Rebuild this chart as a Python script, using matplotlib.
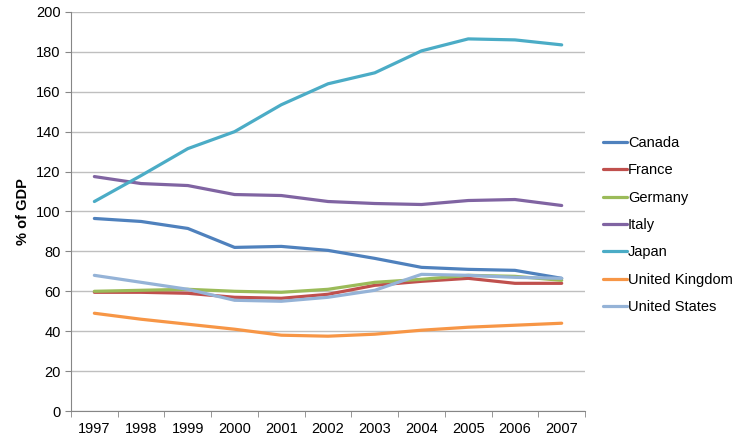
import numpy as np
import matplotlib.pyplot as plt

plt.rcParams['font.family'] = ['Liberation Sans', 'DejaVu Sans']

# Government debt, % of GDP
years = ['1997', '1998', '1999', '2000', '2001', '2002', '2003', '2004', '2005', '2006', '2007']
canada = [96.5, 95, 91.5, 82, 82.5, 80.5, 76.5, 72, 71, 70.5, 66.5]
france = [59.5, 59.5, 59, 57, 56.5, 58.5, 63, 65, 66.5, 64, 64]
germany = [60, 60.5, 61, 60, 59.5, 61, 64.5, 66, 68, 67.5, 65.5]
italy = [117.5, 114, 113, 108.5, 108, 105, 104, 103.5, 105.5, 106, 103]
japan = [105, 118, 131.5, 140, 153.5, 164, 169.5, 180.5, 186.5, 186, 183.5]
uk = [49, 46, 43.5, 41, 38, 37.5, 38.5, 40.5, 42, 43, 44]
us = [68, 64.5, 61, 55.5, 55, 57, 60.5, 68.5, 68, 67, 66.5]

series = [
    ('Canada', canada, '#4F81BD'),
    ('France', france, '#C0504D'),
    ('Germany', germany, '#9BBB59'),
    ('Italy', italy, '#8064A2'),
    ('Japan', japan, '#4BACC6'),
    ('United Kingdom', uk, '#F79646'),
    ('United States', us, '#95B3D7'),
]

fig = plt.figure(figsize=(7.35, 4.43), dpi=100)
ax = fig.add_axes([0.0966, 0.0722, 0.6994, 0.9008])

x = np.arange(len(years))
for name, vals, col in series:
    ax.plot(x, vals, color=col, lw=2.3, label=name, solid_capstyle='round')

ax.set_xlim(-0.5, len(years) - 0.5)
ax.set_ylim(0, 200)
ax.set_yticks(range(0, 201, 20))
ax.set_xticks(x)
ax.set_xticklabels(years)
ax.set_xticks(np.arange(-0.5, len(years)), minor=True)
ax.tick_params(axis='x', which='major', length=0, pad=8, labelsize=10.5)
ax.tick_params(axis='x', which='minor', length=4, color='#868686')
ax.tick_params(axis='y', length=4, color='#868686', labelsize=10.5)

ax.grid(axis='y', color='#BFBFBF', lw=1)
ax.set_axisbelow(True)
for s in ['top', 'right']:
    ax.spines[s].set_visible(False)
for s in ['left', 'bottom']:
    ax.spines[s].set_color('#868686')

ax.set_ylabel('% of GDP', fontweight='bold', fontsize=10.5, labelpad=4)

ax.legend(loc='center left', bbox_to_anchor=(1.01, 0.466), frameon=False,
          fontsize=10.5, handlelength=1.6, handletextpad=0.1, labelspacing=0.92)

fig.savefig('out.png', dpi=100)
